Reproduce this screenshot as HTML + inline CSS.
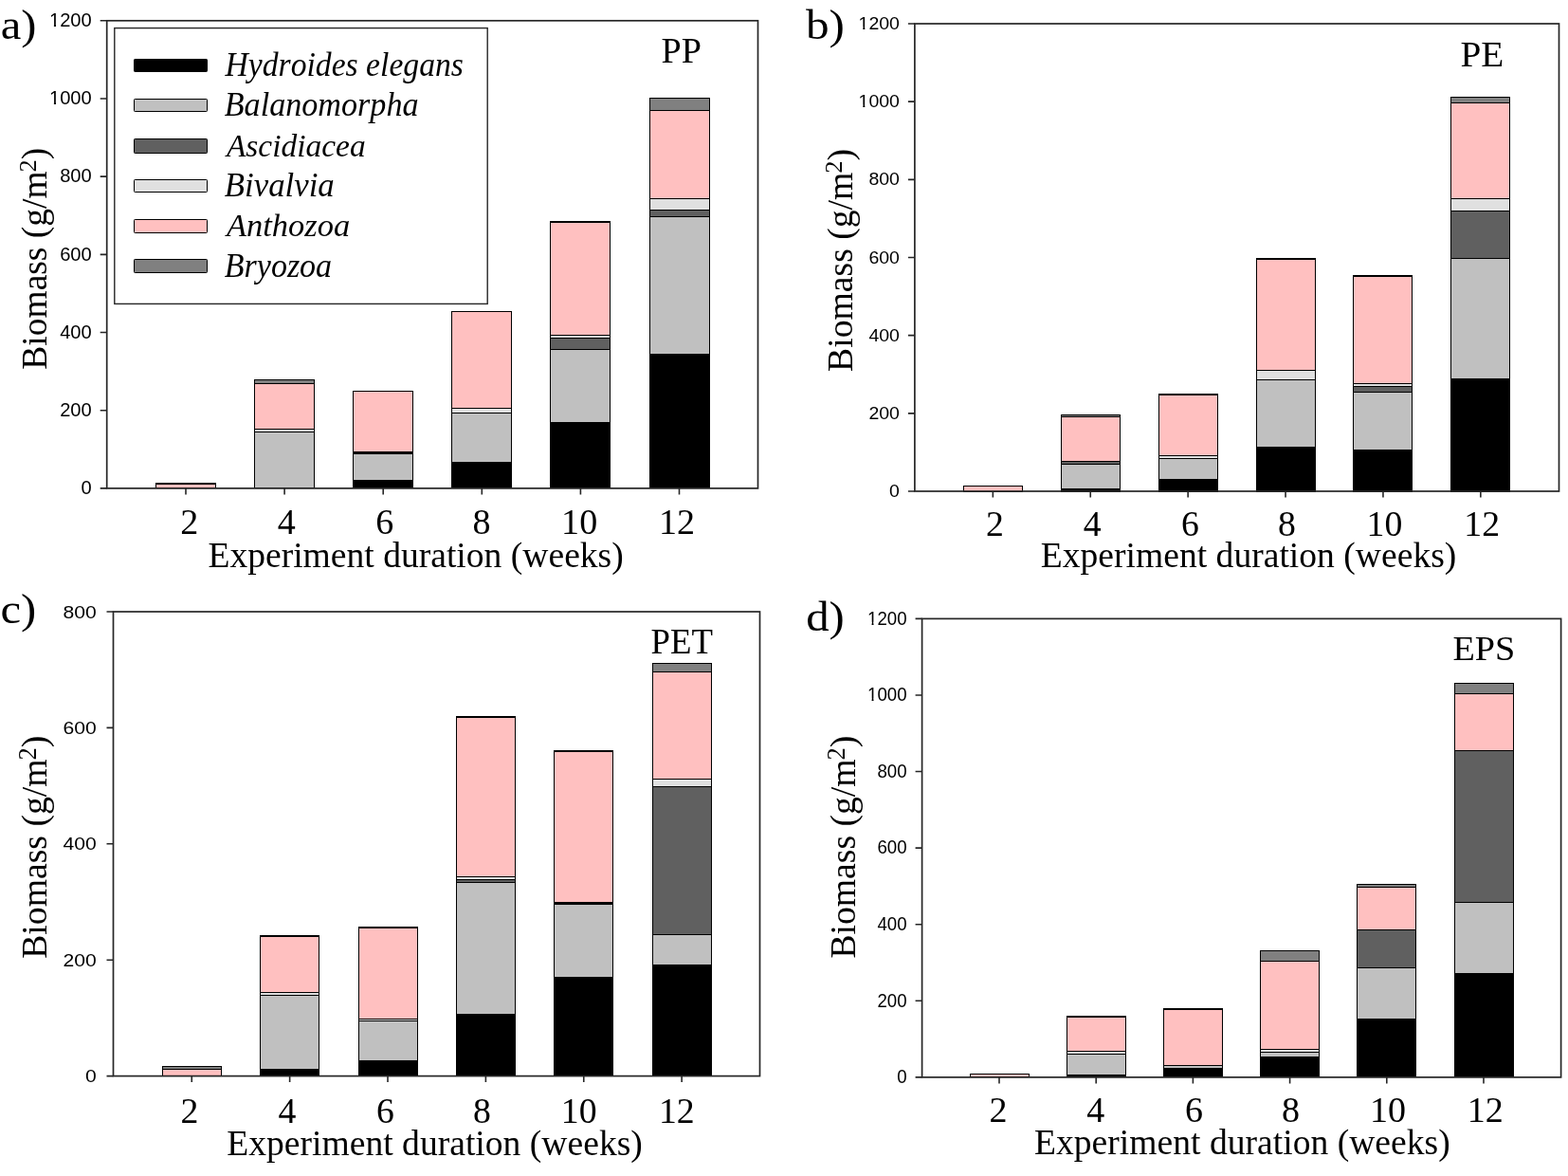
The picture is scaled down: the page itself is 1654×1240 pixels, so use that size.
<!DOCTYPE html>
<html><head><meta charset="utf-8"><title>Biomass figure</title>
<style>
html,body{margin:0;padding:0;background:#fff;}
body{width:1654px;height:1240px;overflow:hidden;}
svg{display:block;}
text{font-kerning:none;}
</style></head><body>
<svg width="1654" height="1240" viewBox="0 0 1654 1240">
<rect width="1654" height="1240" fill="#fff"/>
<rect x="164.5" y="510.5" width="63.0" height="4.0" fill="#ffc0c0" stroke="#000" stroke-width="1.00"/>
<rect x="164.5" y="509.5" width="63.0" height="1.0" fill="#808080" stroke="#000" stroke-width="1.00"/>
<rect x="268.5" y="455.5" width="63.0" height="59.0" fill="#c0c0c0" stroke="#000" stroke-width="1.00"/>
<rect x="268.5" y="452.5" width="63.0" height="3.0" fill="#e0e0e0" stroke="#000" stroke-width="1.00"/>
<rect x="268.5" y="404.5" width="63.0" height="48.0" fill="#ffc0c0" stroke="#000" stroke-width="1.00"/>
<rect x="268.5" y="400.5" width="63.0" height="4.0" fill="#808080" stroke="#000" stroke-width="1.00"/>
<rect x="372.5" y="506.5" width="63.0" height="8.0" fill="#000000" stroke="#000" stroke-width="1.00"/>
<rect x="372.5" y="478.5" width="63.0" height="28.0" fill="#c0c0c0" stroke="#000" stroke-width="1.00"/>
<rect x="372.5" y="477.5" width="63.0" height="1.0" fill="#606060" stroke="#000" stroke-width="1.00"/>
<rect x="372.5" y="476.5" width="63.0" height="1.0" fill="#e0e0e0" stroke="#000" stroke-width="1.00"/>
<rect x="372.5" y="412.5" width="63.0" height="64.0" fill="#ffc0c0" stroke="#000" stroke-width="1.00"/>
<rect x="476.5" y="487.5" width="63.0" height="27.0" fill="#000000" stroke="#000" stroke-width="1.00"/>
<rect x="476.5" y="435.5" width="63.0" height="52.0" fill="#c0c0c0" stroke="#000" stroke-width="1.00"/>
<rect x="476.5" y="430.5" width="63.0" height="5.0" fill="#e0e0e0" stroke="#000" stroke-width="1.00"/>
<rect x="476.5" y="328.5" width="63.0" height="102.0" fill="#ffc0c0" stroke="#000" stroke-width="1.00"/>
<rect x="580.5" y="445.5" width="63.0" height="69.0" fill="#000000" stroke="#000" stroke-width="1.00"/>
<rect x="580.5" y="368.5" width="63.0" height="77.0" fill="#c0c0c0" stroke="#000" stroke-width="1.00"/>
<rect x="580.5" y="356.5" width="63.0" height="12.0" fill="#606060" stroke="#000" stroke-width="1.00"/>
<rect x="580.5" y="353.5" width="63.0" height="3.0" fill="#e0e0e0" stroke="#000" stroke-width="1.00"/>
<rect x="580.5" y="234.5" width="63.0" height="119.0" fill="#ffc0c0" stroke="#000" stroke-width="1.00"/>
<rect x="580.5" y="233.5" width="63.0" height="1.0" fill="#808080" stroke="#000" stroke-width="1.00"/>
<rect x="685.5" y="373.5" width="63.0" height="141.0" fill="#000000" stroke="#000" stroke-width="1.00"/>
<rect x="685.5" y="228.5" width="63.0" height="145.0" fill="#c0c0c0" stroke="#000" stroke-width="1.00"/>
<rect x="685.5" y="221.5" width="63.0" height="7.0" fill="#606060" stroke="#000" stroke-width="1.00"/>
<rect x="685.5" y="209.5" width="63.0" height="12.0" fill="#e0e0e0" stroke="#000" stroke-width="1.00"/>
<rect x="685.5" y="116.5" width="63.0" height="93.0" fill="#ffc0c0" stroke="#000" stroke-width="1.00"/>
<rect x="685.5" y="103.5" width="63.0" height="13.0" fill="#808080" stroke="#000" stroke-width="1.00"/>
<rect x="112.70" y="21.80" width="686.80" height="493.10" fill="none" stroke="#262626" stroke-width="1.7"/>
<path d="M105.70 514.90H112.70M105.70 432.72H112.70M105.70 350.53H112.70M105.70 268.35H112.70M105.70 186.17H112.70M105.70 103.98H112.70M105.70 21.80H112.70M196.00 514.90V521.40M300.10 514.90V521.40M404.20 514.90V521.40M508.30 514.90V521.40M612.40 514.90V521.40M716.50 514.90V521.40" stroke="#262626" stroke-width="1.6" fill="none"/>
<clipPath id="onea" clipPathUnits="userSpaceOnUse"><path d="M-5 -20.76H11.85V-2.85H-5Z M5.07 -20.76H7.21V10.38H5.07Z M11.85 -20.76H207.62V10.38H11.85Z"/></clipPath>
<text transform="translate(85.59 521.05) scale(0.9700 1)" font-size="20.76" font-family='"Liberation Sans", Arial, sans-serif' fill="#000">0</text>
<text transform="translate(63.18 438.86) scale(0.9700 1)" font-size="20.76" font-family='"Liberation Sans", Arial, sans-serif' fill="#000">200</text>
<text transform="translate(63.18 356.68) scale(0.9700 1)" font-size="20.76" font-family='"Liberation Sans", Arial, sans-serif' fill="#000">400</text>
<text transform="translate(63.18 274.50) scale(0.9700 1)" font-size="20.76" font-family='"Liberation Sans", Arial, sans-serif' fill="#000">600</text>
<text transform="translate(63.18 192.31) scale(0.9700 1)" font-size="20.76" font-family='"Liberation Sans", Arial, sans-serif' fill="#000">800</text>
<text transform="translate(51.98 110.13) scale(0.9700 1)" font-size="20.76" font-family='"Liberation Sans", Arial, sans-serif' fill="#000" clip-path="url(#onea)">1000</text>
<text transform="translate(51.98 27.95) scale(0.9700 1)" font-size="20.76" font-family='"Liberation Sans", Arial, sans-serif' fill="#000" clip-path="url(#onea)">1200</text>
<text x="190.20" y="562.90" font-size="38.06" font-family='"Liberation Serif", "Times New Roman", serif' fill="#000">2</text>
<text x="292.86" y="562.90" font-size="38.06" font-family='"Liberation Serif", "Times New Roman", serif' fill="#000">4</text>
<text x="396.33" y="562.90" font-size="38.06" font-family='"Liberation Serif", "Times New Roman", serif' fill="#000">6</text>
<text x="498.43" y="562.90" font-size="38.06" font-family='"Liberation Serif", "Times New Roman", serif' fill="#000">8</text>
<text x="592.12" y="562.90" font-size="38.06" font-family='"Liberation Serif", "Times New Roman", serif' fill="#000">10</text>
<text x="695.05" y="562.90" font-size="38.06" font-family='"Liberation Serif", "Times New Roman", serif' fill="#000">12</text>
<text transform="translate(219.42 597.60) scale(0.9848 1)" font-size="38.18" font-family='"Liberation Serif", "Times New Roman", serif' font-style="normal" fill="#000">Experiment duration (weeks)</text>
<text transform="translate(49.40 389.68) rotate(-90) scale(1.0065 1)" font-size="37.25" font-family='"Liberation Serif", "Times New Roman", serif' fill="#000"><tspan x="0" y="0">Biomass (g/m</tspan><tspan x="206.87" y="-10.99" font-size="26.08">2</tspan><tspan x="219.91" y="0">)</tspan></text>
<text transform="translate(0.69 40.89) scale(1.0986 1)" font-size="44.22" font-family='"Liberation Serif", "Times New Roman", serif' font-style="normal" fill="#000">a)</text>
<text transform="translate(697.60 66.20) scale(1.0111 1)" font-size="37.72" font-family='"Liberation Serif", "Times New Roman", serif' font-style="normal" fill="#000">PP</text>
<rect x="1016.5" y="512.5" width="62.0" height="6.0" fill="#ffc0c0" stroke="#000" stroke-width="1.00"/>
<rect x="1119.5" y="515.5" width="62.0" height="3.0" fill="#000000" stroke="#000" stroke-width="1.00"/>
<rect x="1119.5" y="489.5" width="62.0" height="26.0" fill="#c0c0c0" stroke="#000" stroke-width="1.00"/>
<rect x="1119.5" y="486.5" width="62.0" height="3.0" fill="#606060" stroke="#000" stroke-width="1.00"/>
<rect x="1119.5" y="439.5" width="62.0" height="47.0" fill="#ffc0c0" stroke="#000" stroke-width="1.00"/>
<rect x="1119.5" y="437.5" width="62.0" height="2.0" fill="#808080" stroke="#000" stroke-width="1.00"/>
<rect x="1222.5" y="505.5" width="62.0" height="13.0" fill="#000000" stroke="#000" stroke-width="1.00"/>
<rect x="1222.5" y="483.5" width="62.0" height="22.0" fill="#c0c0c0" stroke="#000" stroke-width="1.00"/>
<rect x="1222.5" y="480.5" width="62.0" height="3.0" fill="#e0e0e0" stroke="#000" stroke-width="1.00"/>
<rect x="1222.5" y="416.5" width="62.0" height="64.0" fill="#ffc0c0" stroke="#000" stroke-width="1.00"/>
<rect x="1222.5" y="415.5" width="62.0" height="1.0" fill="#808080" stroke="#000" stroke-width="1.00"/>
<rect x="1325.5" y="471.5" width="62.0" height="47.0" fill="#000000" stroke="#000" stroke-width="1.00"/>
<rect x="1325.5" y="400.5" width="62.0" height="71.0" fill="#c0c0c0" stroke="#000" stroke-width="1.00"/>
<rect x="1325.5" y="390.5" width="62.0" height="10.0" fill="#e0e0e0" stroke="#000" stroke-width="1.00"/>
<rect x="1325.5" y="273.5" width="62.0" height="117.0" fill="#ffc0c0" stroke="#000" stroke-width="1.00"/>
<rect x="1325.5" y="272.5" width="62.0" height="1.0" fill="#808080" stroke="#000" stroke-width="1.00"/>
<rect x="1427.5" y="474.5" width="62.0" height="44.0" fill="#000000" stroke="#000" stroke-width="1.00"/>
<rect x="1427.5" y="413.5" width="62.0" height="61.0" fill="#c0c0c0" stroke="#000" stroke-width="1.00"/>
<rect x="1427.5" y="407.5" width="62.0" height="6.0" fill="#606060" stroke="#000" stroke-width="1.00"/>
<rect x="1427.5" y="404.5" width="62.0" height="3.0" fill="#e0e0e0" stroke="#000" stroke-width="1.00"/>
<rect x="1427.5" y="291.5" width="62.0" height="113.0" fill="#ffc0c0" stroke="#000" stroke-width="1.00"/>
<rect x="1427.5" y="290.5" width="62.0" height="1.0" fill="#808080" stroke="#000" stroke-width="1.00"/>
<rect x="1530.5" y="399.5" width="62.0" height="119.0" fill="#000000" stroke="#000" stroke-width="1.00"/>
<rect x="1530.5" y="272.5" width="62.0" height="127.0" fill="#c0c0c0" stroke="#000" stroke-width="1.00"/>
<rect x="1530.5" y="222.5" width="62.0" height="50.0" fill="#606060" stroke="#000" stroke-width="1.00"/>
<rect x="1530.5" y="209.5" width="62.0" height="13.0" fill="#e0e0e0" stroke="#000" stroke-width="1.00"/>
<rect x="1530.5" y="108.5" width="62.0" height="101.0" fill="#ffc0c0" stroke="#000" stroke-width="1.00"/>
<rect x="1530.5" y="102.5" width="62.0" height="6.0" fill="#808080" stroke="#000" stroke-width="1.00"/>
<rect x="964.90" y="25.00" width="679.60" height="493.00" fill="none" stroke="#262626" stroke-width="1.7"/>
<path d="M957.90 518.00H964.90M957.90 435.83H964.90M957.90 353.67H964.90M957.90 271.50H964.90M957.90 189.33H964.90M957.90 107.17H964.90M957.90 25.00H964.90M1047.35 518.00V524.50M1150.25 518.00V524.50M1253.15 518.00V524.50M1356.05 518.00V524.50M1458.95 518.00V524.50M1561.85 518.00V524.50" stroke="#262626" stroke-width="1.6" fill="none"/>
<clipPath id="oneb" clipPathUnits="userSpaceOnUse"><path d="M-5 -19.21H10.98V-2.74H-5Z M4.68 -19.21H6.68V9.60H4.68Z M10.98 -19.21H192.09V9.60H10.98Z"/></clipPath>
<text transform="translate(938.11 524.11) scale(1.0160 1)" font-size="19.21" font-family='"Liberation Sans", Arial, sans-serif' fill="#000">0</text>
<text transform="translate(916.40 441.95) scale(1.0160 1)" font-size="19.21" font-family='"Liberation Sans", Arial, sans-serif' fill="#000">200</text>
<text transform="translate(916.40 359.78) scale(1.0160 1)" font-size="19.21" font-family='"Liberation Sans", Arial, sans-serif' fill="#000">400</text>
<text transform="translate(916.40 277.61) scale(1.0160 1)" font-size="19.21" font-family='"Liberation Sans", Arial, sans-serif' fill="#000">600</text>
<text transform="translate(916.40 195.45) scale(1.0160 1)" font-size="19.21" font-family='"Liberation Sans", Arial, sans-serif' fill="#000">800</text>
<text transform="translate(905.55 113.28) scale(1.0160 1)" font-size="19.21" font-family='"Liberation Sans", Arial, sans-serif' fill="#000" clip-path="url(#oneb)">1000</text>
<text transform="translate(905.55 31.11) scale(1.0160 1)" font-size="19.21" font-family='"Liberation Sans", Arial, sans-serif' fill="#000" clip-path="url(#oneb)">1200</text>
<text x="1040.07" y="564.90" font-size="37.76" font-family='"Liberation Serif", "Times New Roman", serif' fill="#000">2</text>
<text x="1142.64" y="564.90" font-size="37.76" font-family='"Liberation Serif", "Times New Roman", serif' fill="#000">4</text>
<text x="1245.91" y="564.90" font-size="37.76" font-family='"Liberation Serif", "Times New Roman", serif' fill="#000">6</text>
<text x="1348.11" y="564.90" font-size="37.76" font-family='"Liberation Serif", "Times New Roman", serif' fill="#000">8</text>
<text x="1441.53" y="564.90" font-size="37.76" font-family='"Liberation Serif", "Times New Roman", serif' fill="#000">10</text>
<text x="1544.35" y="564.90" font-size="37.76" font-family='"Liberation Serif", "Times New Roman", serif' fill="#000">12</text>
<text transform="translate(1097.72 597.80) scale(0.9775 1)" font-size="38.49" font-family='"Liberation Serif", "Times New Roman", serif' font-style="normal" fill="#000">Experiment duration (weeks)</text>
<text transform="translate(898.50 391.89) rotate(-90) scale(1.0196 1)" font-size="36.95" font-family='"Liberation Serif", "Times New Roman", serif' fill="#000"><tspan x="0" y="0">Biomass (g/m</tspan><tspan x="205.18" y="-10.90" font-size="25.86">2</tspan><tspan x="218.11" y="0">)</tspan></text>
<text transform="translate(850.00 41.22) scale(1.0928 1)" font-size="45.00" font-family='"Liberation Serif", "Times New Roman", serif' font-style="normal" fill="#000">b)</text>
<text transform="translate(1540.47 70.40) scale(1.0218 1)" font-size="38.49" font-family='"Liberation Serif", "Times New Roman", serif' font-style="normal" fill="#000">PE</text>
<rect x="171.5" y="1127.5" width="62.0" height="7.0" fill="#ffc0c0" stroke="#000" stroke-width="1.00"/>
<rect x="171.5" y="1124.5" width="62.0" height="3.0" fill="#808080" stroke="#000" stroke-width="1.00"/>
<rect x="274.5" y="1127.5" width="62.0" height="7.0" fill="#000000" stroke="#000" stroke-width="1.00"/>
<rect x="274.5" y="1049.5" width="62.0" height="78.0" fill="#c0c0c0" stroke="#000" stroke-width="1.00"/>
<rect x="274.5" y="1046.5" width="62.0" height="3.0" fill="#e0e0e0" stroke="#000" stroke-width="1.00"/>
<rect x="274.5" y="987.5" width="62.0" height="59.0" fill="#ffc0c0" stroke="#000" stroke-width="1.00"/>
<rect x="274.5" y="986.5" width="62.0" height="1.0" fill="#808080" stroke="#000" stroke-width="1.00"/>
<rect x="378.5" y="1118.5" width="62.0" height="16.0" fill="#000000" stroke="#000" stroke-width="1.00"/>
<rect x="378.5" y="1076.5" width="62.0" height="42.0" fill="#c0c0c0" stroke="#000" stroke-width="1.00"/>
<rect x="378.5" y="1074.5" width="62.0" height="2.0" fill="#e0e0e0" stroke="#000" stroke-width="1.00"/>
<rect x="378.5" y="978.5" width="62.0" height="96.0" fill="#ffc0c0" stroke="#000" stroke-width="1.00"/>
<rect x="378.5" y="977.5" width="62.0" height="1.0" fill="#808080" stroke="#000" stroke-width="1.00"/>
<rect x="481.5" y="1069.5" width="62.0" height="65.0" fill="#000000" stroke="#000" stroke-width="1.00"/>
<rect x="481.5" y="930.5" width="62.0" height="139.0" fill="#c0c0c0" stroke="#000" stroke-width="1.00"/>
<rect x="481.5" y="927.5" width="62.0" height="3.0" fill="#606060" stroke="#000" stroke-width="1.00"/>
<rect x="481.5" y="924.5" width="62.0" height="3.0" fill="#e0e0e0" stroke="#000" stroke-width="1.00"/>
<rect x="481.5" y="756.5" width="62.0" height="168.0" fill="#ffc0c0" stroke="#000" stroke-width="1.00"/>
<rect x="481.5" y="755.5" width="62.0" height="1.0" fill="#808080" stroke="#000" stroke-width="1.00"/>
<rect x="584.5" y="1030.5" width="62.0" height="104.0" fill="#000000" stroke="#000" stroke-width="1.00"/>
<rect x="584.5" y="953.5" width="62.0" height="77.0" fill="#c0c0c0" stroke="#000" stroke-width="1.00"/>
<rect x="584.5" y="952.5" width="62.0" height="1.0" fill="#606060" stroke="#000" stroke-width="1.00"/>
<rect x="584.5" y="951.5" width="62.0" height="1.0" fill="#e0e0e0" stroke="#000" stroke-width="1.00"/>
<rect x="584.5" y="792.5" width="62.0" height="159.0" fill="#ffc0c0" stroke="#000" stroke-width="1.00"/>
<rect x="584.5" y="791.5" width="62.0" height="1.0" fill="#808080" stroke="#000" stroke-width="1.00"/>
<rect x="688.5" y="1017.5" width="62.0" height="117.0" fill="#000000" stroke="#000" stroke-width="1.00"/>
<rect x="688.5" y="985.5" width="62.0" height="32.0" fill="#c0c0c0" stroke="#000" stroke-width="1.00"/>
<rect x="688.5" y="829.5" width="62.0" height="156.0" fill="#606060" stroke="#000" stroke-width="1.00"/>
<rect x="688.5" y="821.5" width="62.0" height="8.0" fill="#e0e0e0" stroke="#000" stroke-width="1.00"/>
<rect x="688.5" y="708.5" width="62.0" height="113.0" fill="#ffc0c0" stroke="#000" stroke-width="1.00"/>
<rect x="688.5" y="699.5" width="62.0" height="9.0" fill="#808080" stroke="#000" stroke-width="1.00"/>
<rect x="119.50" y="645.00" width="682.00" height="489.60" fill="none" stroke="#262626" stroke-width="1.7"/>
<path d="M112.50 1134.60H119.50M112.50 1012.20H119.50M112.50 889.80H119.50M112.50 767.40H119.50M112.50 645.00H119.50M202.25 1134.60V1141.10M305.63 1134.60V1141.10M409.01 1134.60V1141.10M512.39 1134.60V1141.10M615.77 1134.60V1141.10M719.15 1134.60V1141.10" stroke="#262626" stroke-width="1.6" fill="none"/>
<clipPath id="onec" clipPathUnits="userSpaceOnUse"><path d="M-5 -18.93H10.83V-2.71H-5Z M4.61 -18.93H6.58V9.46H4.61Z M10.83 -18.93H189.26V9.46H10.83Z"/></clipPath>
<text transform="translate(90.08 1141.12) scale(1.1160 1)" font-size="18.93" font-family='"Liberation Sans", Arial, sans-serif' fill="#000">0</text>
<text transform="translate(66.58 1018.72) scale(1.1160 1)" font-size="18.93" font-family='"Liberation Sans", Arial, sans-serif' fill="#000">200</text>
<text transform="translate(66.58 896.32) scale(1.1160 1)" font-size="18.93" font-family='"Liberation Sans", Arial, sans-serif' fill="#000">400</text>
<text transform="translate(66.58 773.92) scale(1.1160 1)" font-size="18.93" font-family='"Liberation Sans", Arial, sans-serif' fill="#000">600</text>
<text transform="translate(66.58 651.52) scale(1.1160 1)" font-size="18.93" font-family='"Liberation Sans", Arial, sans-serif' fill="#000">800</text>
<text x="190.42" y="1183.90" font-size="37.76" font-family='"Liberation Serif", "Times New Roman", serif' fill="#000">2</text>
<text x="293.49" y="1183.90" font-size="37.76" font-family='"Liberation Serif", "Times New Roman", serif' fill="#000">4</text>
<text x="397.01" y="1183.90" font-size="37.76" font-family='"Liberation Serif", "Times New Roman", serif' fill="#000">6</text>
<text x="498.96" y="1183.90" font-size="37.76" font-family='"Liberation Serif", "Times New Roman", serif' fill="#000">8</text>
<text x="591.83" y="1183.90" font-size="37.76" font-family='"Liberation Serif", "Times New Roman", serif' fill="#000">10</text>
<text x="694.90" y="1183.90" font-size="37.76" font-family='"Liberation Serif", "Times New Roman", serif' fill="#000">12</text>
<text transform="translate(239.22 1217.80) scale(0.9775 1)" font-size="38.49" font-family='"Liberation Serif", "Times New Roman", serif' font-style="normal" fill="#000">Experiment duration (weeks)</text>
<text transform="translate(49.30 1010.79) rotate(-90) scale(0.9955 1)" font-size="37.86" font-family='"Liberation Serif", "Times New Roman", serif' fill="#000"><tspan x="0" y="0">Biomass (g/m</tspan><tspan x="210.25" y="-11.17" font-size="26.50">2</tspan><tspan x="223.50" y="0">)</tspan></text>
<text transform="translate(0.45 657.49) scale(1.1000 1)" font-size="44.22" font-family='"Liberation Serif", "Times New Roman", serif' font-style="normal" fill="#000">c)</text>
<text transform="translate(686.44 688.50) scale(0.9802 1)" font-size="37.57" font-family='"Liberation Serif", "Times New Roman", serif' font-style="normal" fill="#000">PET</text>
<rect x="1023.5" y="1132.5" width="62.0" height="3.0" fill="#ffc0c0" stroke="#000" stroke-width="1.00"/>
<rect x="1125.5" y="1133.5" width="62.0" height="2.0" fill="#000000" stroke="#000" stroke-width="1.00"/>
<rect x="1125.5" y="1111.5" width="62.0" height="22.0" fill="#c0c0c0" stroke="#000" stroke-width="1.00"/>
<rect x="1125.5" y="1108.5" width="62.0" height="3.0" fill="#e0e0e0" stroke="#000" stroke-width="1.00"/>
<rect x="1125.5" y="1072.5" width="62.0" height="36.0" fill="#ffc0c0" stroke="#000" stroke-width="1.00"/>
<rect x="1125.5" y="1071.5" width="62.0" height="1.0" fill="#808080" stroke="#000" stroke-width="1.00"/>
<rect x="1227.5" y="1126.5" width="62.0" height="9.0" fill="#000000" stroke="#000" stroke-width="1.00"/>
<rect x="1227.5" y="1123.5" width="62.0" height="3.0" fill="#c0c0c0" stroke="#000" stroke-width="1.00"/>
<rect x="1227.5" y="1064.5" width="62.0" height="59.0" fill="#ffc0c0" stroke="#000" stroke-width="1.00"/>
<rect x="1227.5" y="1063.5" width="62.0" height="1.0" fill="#808080" stroke="#000" stroke-width="1.00"/>
<rect x="1329.5" y="1114.5" width="62.0" height="21.0" fill="#000000" stroke="#000" stroke-width="1.00"/>
<rect x="1329.5" y="1109.5" width="62.0" height="5.0" fill="#c0c0c0" stroke="#000" stroke-width="1.00"/>
<rect x="1329.5" y="1106.5" width="62.0" height="3.0" fill="#e0e0e0" stroke="#000" stroke-width="1.00"/>
<rect x="1329.5" y="1013.5" width="62.0" height="93.0" fill="#ffc0c0" stroke="#000" stroke-width="1.00"/>
<rect x="1329.5" y="1002.5" width="62.0" height="11.0" fill="#808080" stroke="#000" stroke-width="1.00"/>
<rect x="1431.5" y="1074.5" width="62.0" height="61.0" fill="#000000" stroke="#000" stroke-width="1.00"/>
<rect x="1431.5" y="1020.5" width="62.0" height="54.0" fill="#c0c0c0" stroke="#000" stroke-width="1.00"/>
<rect x="1431.5" y="980.5" width="62.0" height="40.0" fill="#606060" stroke="#000" stroke-width="1.00"/>
<rect x="1431.5" y="935.5" width="62.0" height="45.0" fill="#ffc0c0" stroke="#000" stroke-width="1.00"/>
<rect x="1431.5" y="932.5" width="62.0" height="3.0" fill="#808080" stroke="#000" stroke-width="1.00"/>
<rect x="1534.5" y="1026.5" width="62.0" height="109.0" fill="#000000" stroke="#000" stroke-width="1.00"/>
<rect x="1534.5" y="951.5" width="62.0" height="75.0" fill="#c0c0c0" stroke="#000" stroke-width="1.00"/>
<rect x="1534.5" y="791.5" width="62.0" height="160.0" fill="#606060" stroke="#000" stroke-width="1.00"/>
<rect x="1534.5" y="731.5" width="62.0" height="60.0" fill="#ffc0c0" stroke="#000" stroke-width="1.00"/>
<rect x="1534.5" y="720.5" width="62.0" height="11.0" fill="#808080" stroke="#000" stroke-width="1.00"/>
<rect x="972.60" y="652.40" width="674.00" height="483.50" fill="none" stroke="#262626" stroke-width="1.7"/>
<path d="M965.60 1135.90H972.60M965.60 1055.32H972.60M965.60 974.73H972.60M965.60 894.15H972.60M965.60 813.57H972.60M965.60 732.98H972.60M965.60 652.40H972.60M1054.00 1135.90V1142.40M1156.20 1135.90V1142.40M1258.40 1135.90V1142.40M1360.60 1135.90V1142.40M1462.80 1135.90V1142.40M1565.00 1135.90V1142.40" stroke="#262626" stroke-width="1.6" fill="none"/>
<clipPath id="oned" clipPathUnits="userSpaceOnUse"><path d="M-5 -19.49H11.14V-2.76H-5Z M4.75 -19.49H6.77V9.75H4.75Z M11.14 -19.49H194.91V9.75H11.14Z"/></clipPath>
<text transform="translate(946.22 1142.11) scale(0.9600 1)" font-size="19.49" font-family='"Liberation Sans", Arial, sans-serif' fill="#000">0</text>
<text transform="translate(925.41 1061.53) scale(0.9600 1)" font-size="19.49" font-family='"Liberation Sans", Arial, sans-serif' fill="#000">200</text>
<text transform="translate(925.41 980.94) scale(0.9600 1)" font-size="19.49" font-family='"Liberation Sans", Arial, sans-serif' fill="#000">400</text>
<text transform="translate(925.41 900.36) scale(0.9600 1)" font-size="19.49" font-family='"Liberation Sans", Arial, sans-serif' fill="#000">600</text>
<text transform="translate(925.41 819.78) scale(0.9600 1)" font-size="19.49" font-family='"Liberation Sans", Arial, sans-serif' fill="#000">800</text>
<text transform="translate(915.00 739.19) scale(0.9600 1)" font-size="19.49" font-family='"Liberation Sans", Arial, sans-serif' fill="#000" clip-path="url(#oned)">1000</text>
<text transform="translate(915.00 658.61) scale(0.9600 1)" font-size="19.49" font-family='"Liberation Sans", Arial, sans-serif' fill="#000" clip-path="url(#oned)">1200</text>
<text x="1043.50" y="1182.90" font-size="38.06" font-family='"Liberation Serif", "Times New Roman", serif' fill="#000">2</text>
<text x="1146.31" y="1182.90" font-size="38.06" font-family='"Liberation Serif", "Times New Roman", serif' fill="#000">4</text>
<text x="1249.93" y="1182.90" font-size="38.06" font-family='"Liberation Serif", "Times New Roman", serif' fill="#000">6</text>
<text x="1351.88" y="1182.90" font-size="38.06" font-family='"Liberation Serif", "Times New Roman", serif' fill="#000">8</text>
<text x="1444.97" y="1182.90" font-size="38.06" font-family='"Liberation Serif", "Times New Roman", serif' fill="#000">10</text>
<text x="1547.70" y="1182.90" font-size="38.06" font-family='"Liberation Serif", "Times New Roman", serif' fill="#000">12</text>
<text transform="translate(1091.02 1216.70) scale(0.9738 1)" font-size="38.64" font-family='"Liberation Serif", "Times New Roman", serif' font-style="normal" fill="#000">Experiment duration (weeks)</text>
<text transform="translate(902.30 1010.58) rotate(-90) scale(0.9867 1)" font-size="38.16" font-family='"Liberation Serif", "Times New Roman", serif' fill="#000"><tspan x="0" y="0">Biomass (g/m</tspan><tspan x="211.93" y="-11.26" font-size="26.71">2</tspan><tspan x="225.29" y="0">)</tspan></text>
<text transform="translate(850.14 665.24) scale(1.0859 1)" font-size="44.89" font-family='"Liberation Serif", "Times New Roman", serif' font-style="normal" fill="#000">d)</text>
<text transform="translate(1532.50 696.34) scale(1.0398 1)" font-size="36.76" font-family='"Liberation Serif", "Times New Roman", serif' font-style="normal" fill="#000">EPS</text>
<rect x="120.80" y="29.60" width="393.40" height="290.80" fill="#fff" stroke="#262626" stroke-width="1.4"/>
<rect x="141.5" y="62.5" width="77.0" height="13.0" rx="0.8" fill="#000000" stroke="#000" stroke-width="1"/>
<text transform="translate(237.46 79.70) scale(0.9628 1)" font-size="34.97" font-family='"Liberation Serif", "Times New Roman", serif' font-style="italic" fill="#000">Hydroides elegans</text>
<rect x="141.5" y="104.5" width="77.0" height="13.0" rx="0.8" fill="#c0c0c0" stroke="#000" stroke-width="1"/>
<text transform="translate(236.78 122.00) scale(0.9803 1)" font-size="34.82" font-family='"Liberation Serif", "Times New Roman", serif' font-style="italic" fill="#000">Balanomorpha</text>
<rect x="141.5" y="146.5" width="77.0" height="15.0" rx="0.8" fill="#606060" stroke="#000" stroke-width="1"/>
<text transform="translate(238.93 164.70) scale(0.9641 1)" font-size="34.69" font-family='"Liberation Serif", "Times New Roman", serif' font-style="italic" fill="#000">Ascidiacea</text>
<rect x="141.5" y="189.5" width="77.0" height="13.0" rx="0.8" fill="#e0e0e0" stroke="#000" stroke-width="1"/>
<text transform="translate(236.78 206.50) scale(0.9993 1)" font-size="34.82" font-family='"Liberation Serif", "Times New Roman", serif' font-style="italic" fill="#000">Bivalvia</text>
<rect x="141.5" y="231.5" width="77.0" height="14.0" rx="0.8" fill="#ffc0c0" stroke="#000" stroke-width="1"/>
<text transform="translate(238.98 249.30) scale(0.9936 1)" font-size="34.69" font-family='"Liberation Serif", "Times New Roman", serif' font-style="italic" fill="#000">Anthozoa</text>
<rect x="141.5" y="273.5" width="77.0" height="14.0" rx="0.8" fill="#808080" stroke="#000" stroke-width="1"/>
<text transform="translate(236.78 291.60) scale(0.9771 1)" font-size="34.82" font-family='"Liberation Serif", "Times New Roman", serif' font-style="italic" fill="#000">Bryozoa</text>
</svg>
</body></html>
